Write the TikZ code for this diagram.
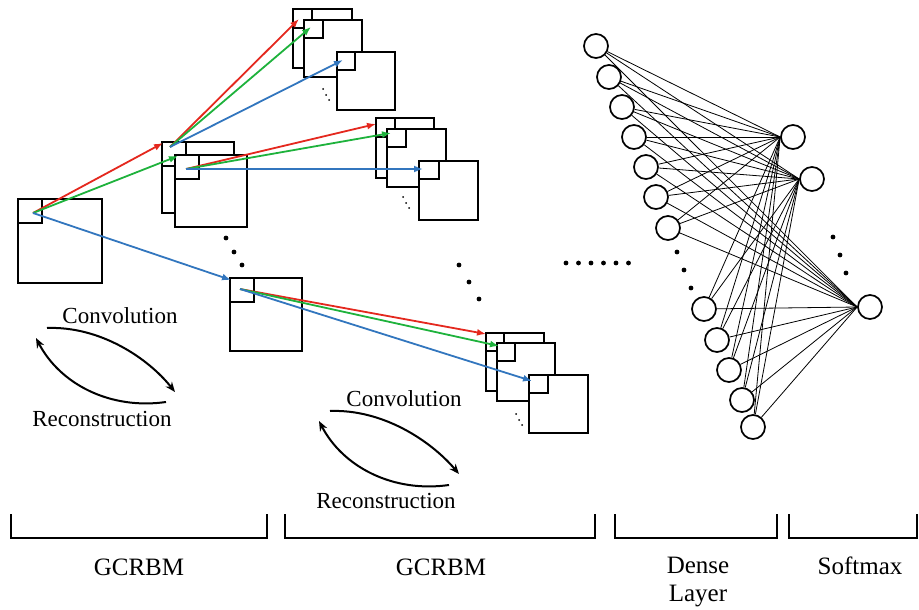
\documentclass[tikz,border=0pt]{standalone}
\usepackage{fontspec}
\setmainfont{Liberation Serif}
\usetikzlibrary{arrows.meta}
\definecolor{convred}{RGB}{228,40,30}
\definecolor{convgreen}{RGB}{30,178,60}
\definecolor{convblue}{RGB}{50,118,190}

\begin{document}
\begin{tikzpicture}[x=1pt,y=-1pt,
	fmap/.style={draw=black,fill=white,line width=2pt},
	link/.style={line width=1.8pt,-{Latex[length=9pt,width=7pt]}},
	unit/.style={circle,draw,line width=1.7pt,minimum size=24pt,inner sep=0pt},
	wire/.style={line width=0.8pt},
	cyc/.style={line width=2pt,-{Stealth[length=10pt,width=8pt]}},
	brack/.style={line width=1.6pt},
	lbl/.style={anchor=base,font=\fontsize{25}{28}\selectfont},
	op/.style={anchor=base,font=\fontsize{23}{26}\selectfont}]
			\useasboundingbox (0,0) rectangle (919,610);
			% input map
			\draw[fmap] (18,199) rectangle (102,283);
			\draw[fmap] (18,199) rectangle (42,223);
			% first GCRBM maps
			\draw[fmap] (162,142) rectangle (234,213);
			\draw[fmap] (162,142) rectangle (186,166);
			\draw[fmap] (175,155) rectangle (247,227);
			\draw[fmap] (175,155) rectangle (199,179);
			\draw[fmap] (230,278) rectangle (302,351);
			\draw[fmap] (230,278) rectangle (254,302);
			% second GCRBM maps
			\draw[fmap] (293,9) rectangle (352,68);
			\draw[fmap] (293,9) rectangle (312,28);
			\draw[fmap] (304,20) rectangle (362,77);
			\draw[fmap] (304,20) rectangle (323,38);
			\draw[fmap] (337,52) rectangle (395,110);
			\draw[fmap] (337,52) rectangle (355,70);
			\draw[fmap] (376,118) rectangle (434,178);
			\draw[fmap] (376,118) rectangle (395,137);
			\draw[fmap] (387,129) rectangle (446,187);
			\draw[fmap] (387,129) rectangle (406,147);
			\draw[fmap] (419,161) rectangle (478,220);
			\draw[fmap] (419,161) rectangle (439,179);
			\draw[fmap] (486,333) rectangle (544,391);
			\draw[fmap] (486,333) rectangle (504,351);
			\draw[fmap] (497,343) rectangle (555,401);
			\draw[fmap] (497,343) rectangle (515,361);
			\draw[fmap] (529,375) rectangle (588,433);
			\draw[fmap] (529,375) rectangle (548,393);
			% small dots inside the stacks
			\foreach \dx/\dy in {323/89,326/95,329/100,403/197,406/203,409/208,516/414,519/420,522/425}
				\fill (\dx,\dy) circle (1pt);
			% large dots
			\foreach \dx/\dy in {226/238,234/252,242/265,459/265,469/282,479/299,677/252,684/270,691/288,833/237,840/255,846/273}
				\fill (\dx,\dy) circle (2.4pt);
			\foreach \dx in {566,578.5,591,603.5,616,628.5}
				\fill (\dx,263) circle (2.4pt);
			% arrow ends
			\coordinate (in) at (33,213);
			\coordinate (s2b) at (170,147);
			\coordinate (s2f) at (186,169);
			\coordinate (s2l) at (240,289);
			\coordinate (t2b) at (163,143);
			\coordinate (t2f) at (178,156);
			\coordinate (t2l) at (231,280);
			\coordinate (topb) at (299,19);
			\coordinate (topm) at (311,27);
			\coordinate (topf) at (343,60);
			\coordinate (midb) at (376,124);
			\coordinate (midm) at (391,133);
			\coordinate (midf) at (423,169);
			\coordinate (botb) at (486,334);
			\coordinate (botm) at (499,346);
			\coordinate (botf) at (532,381);
			\draw[link,convred] (in)--(t2b);
			\draw[link,convgreen] (in)--(t2f);
			\draw[link,convblue] (in)--(t2l);
			\draw[link,convred] (s2b)--(topb);
			\draw[link,convgreen] (s2b)--(topm);
			\draw[link,convblue] (s2b)--(topf);
			\draw[link,convred] (s2f)--(midb);
			\draw[link,convgreen] (s2f)--(midm);
			\draw[link,convblue] (s2f)--(midf);
			\draw[link,convred] (s2l)--(botb);
			\draw[link,convgreen] (s2l)--(botm);
			\draw[link,convblue] (s2l)--(botf);
			% dense and softmax layers
			\foreach \i/\px/\py in {1/596/46,2/609/77,3/622/107,4/634/137,5/646/167,6/656/197,7/668/228,8/704/309,9/717/340,10/729/370,11/742/400,12/753/427}
				\node[unit] (d\i) at (\px,\py) {};
			\node[unit] (s1) at (793,137) {};
			\node[unit] (s2) at (812,179) {};
			\node[unit] (s3) at (870,307) {};
			\foreach \i in {1,...,12}
				\foreach \j in {1,2,3}
					\draw[wire] (d\i) -- (s\j.west);
			% convolution / reconstruction
			\node[op] (conv1) at (120,323) {Convolution};
			\node[op] (rec1) at (102,426) {Reconstruction};
			\draw[cyc] (47,328) .. controls (100,326) and (148,358) .. (175,392);
			\draw[cyc] (166,402) .. controls (110,410) and (60,384) .. (36,338);
			\node[op] (conv2) at (404,406) {Convolution};
			\node[op] (rec2) at (386,508) {Reconstruction};
			\draw[cyc] (330,411) .. controls (383,409) and (431,441) .. (459,474);
			\draw[cyc] (449,485) .. controls (393,493) and (343,467) .. (319,421);
			% brackets
			\draw[brack] (11,514)--(11,538)--(267,538)--(267,514);
			\draw[brack] (285,514)--(285,538)--(595,538)--(595,514);
			\draw[brack] (615,514)--(615,538)--(777,538)--(777,514);
			\draw[brack] (789,514)--(789,538)--(917,538)--(917,514);
			\node[lbl] (g1) at (139,575) {GCRBM};
			\node[lbl] (g2) at (441,575) {GCRBM};
			\node[lbl] (dn) at (698,573) {Dense};
			\node[lbl] (ly) at (698,601) {Layer};
			\node[lbl] (sm) at (860,574) {Softmax};
		\end{tikzpicture}
\end{document}
